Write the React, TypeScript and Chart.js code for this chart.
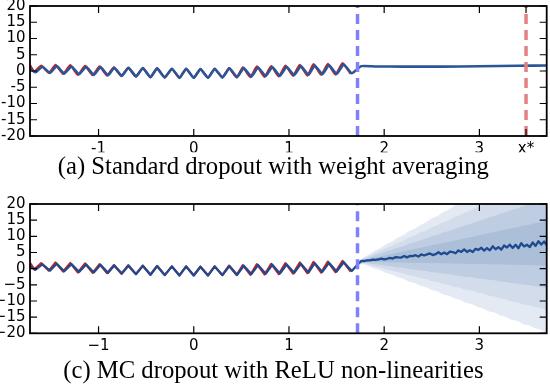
import { useEffect, useRef } from 'react';
import { Chart, registerables } from 'chart.js';
Chart.register(...registerables);

// ---- axis ranges / ticks ----
const X_MIN = -1.72;
const X_MAX = 3.707;
const Y_TICKS = [-20, -15, -10, -5, 0, 5, 10, 15, 20];
const X_TICKS_TOP = [-1, 0, 1, 2, 3, 3.49];
const X_LABELS_TOP = ['-1', '0', '1', '2', '3', 'x*'];
const X_TICKS_BOTTOM = [-1, 0, 1, 2, 3];
const X_LABELS_BOTTOM = ['\u22121', '0', '1', '2', '3'];
const TRAIN_END = 1.72;
const X_STAR = 3.49;
const CAPTION_TOP = '(a) Standard dropout with weight averaging';
const CAPTION_BOTTOM = '(c) MC dropout with ReLU non-linearities';

// ---- model fit on the training range (peaks / troughs) ----
const fitX = [-1.72, -1.665, -1.59, -1.51, -1.44, -1.36, -1.285, -1.205, -1.13, -1.05, -0.98, -0.9, -0.835, -0.755, -0.685, -0.605, -0.535, -0.455, -0.385, -0.305, -0.23, -0.15, -0.08, 0.0, 0.07, 0.15, 0.22, 0.3, 0.375, 0.455, 0.525, 0.605, 0.675, 0.755, 0.825, 0.905, 0.975, 1.055, 1.125, 1.205, 1.27, 1.35, 1.42, 1.5, 1.575, 1.66];
const fitY = [0.8, -0.4, 1.3, -0.6, 1.5, -0.8, 1.4, -1.0, 1.3, -1.2, 1.2, -1.3, 1.0, -1.5, 1.0, -1.7, 0.9, -1.9, 0.8, -2.0, 0.7, -2.1, 0.7, -2.1, 0.6, -2.1, 0.7, -2.0, 0.8, -1.9, 0.9, -1.7, 1.1, -1.6, 1.2, -1.5, 1.3, -1.3, 1.5, -1.2, 1.7, -1.0, 1.8, -0.9, 2.0, -0.7];

// ---- observed data (red) ----
const dataX = [-1.72, -1.675, -1.602, -1.522, -1.452, -1.372, -1.297, -1.217, -1.142, -1.062, -0.99, -0.91, -0.84, -0.76, -0.69, -0.61, -0.535, -0.455, -0.385, -0.305, -0.23, -0.15, -0.08, 0.0, 0.07, 0.15, 0.22, 0.3, 0.37, 0.45, 0.515, 0.595, 0.663, 0.743, 0.813, 0.893, 0.963, 1.043, 1.113, 1.193, 1.258, 1.338, 1.408, 1.488, 1.563, 1.648];
const dataY = [1.8, -0.2, 1.7, -0.6, 1.9, -0.9, 1.8, -1.2, 1.6, -1.3, 1.4, -1.4, 1.1, -1.6, 1.0, -1.7, 0.9, -1.9, 0.8, -2.0, 0.7, -2.1, 0.7, -2.1, 0.6, -2.1, 0.7, -2.0, 0.9, -2.0, 1.1, -1.9, 1.4, -1.8, 1.5, -1.7, 1.7, -1.5, 1.9, -1.4, 2.1, -1.2, 2.2, -1.1, 2.4, -0.9];

// ---- standard dropout extrapolation (flat) ----
const flatX = [1.76, 1.9, 2.2, 2.6, 3.0, 3.4, 3.72];
const flatY = [1.5, 1.4, 1.35, 1.35, 1.45, 1.6, 1.7];

// ---- MC dropout extrapolation: predictive mean ----
const mcX = [1.72, 1.76, 1.79, 1.82, 1.85, 1.88, 1.91, 1.94, 1.97, 2.0, 2.03, 2.06, 2.09, 2.12, 2.15, 2.18, 2.21, 2.24, 2.27, 2.3, 2.33, 2.36, 2.39, 2.42, 2.45, 2.48, 2.51, 2.54, 2.57, 2.6, 2.63, 2.66, 2.69, 2.72, 2.75, 2.78, 2.81, 2.84, 2.87, 2.9, 2.93, 2.96, 2.99, 3.02, 3.05, 3.08, 3.11, 3.14, 3.17, 3.2, 3.23, 3.26, 3.29, 3.32, 3.35, 3.38, 3.41, 3.44, 3.47, 3.5, 3.53, 3.56, 3.59, 3.62, 3.65, 3.68, 3.71];
const mcMean = [1.3, 2.4, 2.36, 2.55, 2.59, 2.81, 2.69, 2.88, 3.07, 2.86, 3.06, 3.31, 3.13, 3.57, 3.46, 3.42, 3.89, 3.48, 3.92, 3.86, 4.17, 3.75, 4.4, 4.08, 4.4, 4.72, 4.2, 4.48, 5.06, 4.47, 4.97, 4.48, 5.25, 5.14, 4.75, 5.64, 5.17, 5.94, 5.16, 5.72, 5.13, 6.14, 5.8, 6.46, 5.57, 6.38, 5.65, 6.91, 6.01, 6.67, 5.87, 7.16, 6.56, 7.43, 6.4, 7.37, 6.31, 7.89, 6.88, 7.4, 6.69, 8.1, 7.03, 8.48, 7.46, 8.39, 7.24];

// ---- MC dropout uncertainty: band centre and std ----
const bandX = [1.72, 1.78, 1.84, 1.9, 1.96, 2.02, 2.08, 2.14, 2.2, 2.26, 2.32, 2.38, 2.44, 2.5, 2.56, 2.62, 2.68, 2.74, 2.8, 2.86, 2.92, 2.98, 3.04, 3.1, 3.16, 3.22, 3.28, 3.34, 3.4, 3.46, 3.52, 3.58, 3.64, 3.7, 3.76];
const bandCenter = [1.4, 2.41, 2.58, 2.75, 2.92, 3.09, 3.26, 3.43, 3.6, 3.78, 3.95, 4.12, 4.29, 4.46, 4.63, 4.8, 4.97, 5.14, 5.31, 5.48, 5.66, 5.83, 6.0, 6.17, 6.34, 6.51, 6.68, 6.85, 7.02, 7.19, 7.36, 7.54, 7.71, 7.88, 8.05];
const bandStd = [0.1, 0.51, 0.9, 1.38, 1.72, 2.22, 2.55, 3.05, 3.36, 3.9, 4.2, 4.7, 5.02, 5.55, 5.84, 6.38, 6.66, 7.2, 7.5, 8.04, 8.3, 8.86, 9.15, 9.7, 9.96, 10.52, 10.8, 11.36, 11.62, 12.18, 12.45, 13.0, 13.28, 13.84, 14.1];
const bandFactors = [0.5, 1, 1.5, 2];
const bandColors = ['#abbfd9', '#bfcde2', '#d2dcea', '#e4eaf3'];

const BLUE = '#2a5597';
const BLUE_DARK = '#1f4a8f';
const RED = '#cc2020';
const DASH_BLUE = '#8080ff';
const DASH_RED = '#e58080';

const pts = (xs: number[], ys: number[]) => xs.map((x, i) => ({ x, y: ys[i] }));

const line = (data: any[], color: string, width: number, order: number, extra: any = {}) => ({
  data,
  borderColor: color,
  backgroundColor: color,
  borderWidth: width,
  pointRadius: 0,
  tension: 0,
  fill: false,
  order,
  borderJoinStyle: 'round',
  ...extra,
});

const vline = (x: number, color: string) =>
  line([{ x, y: -20 }, { x, y: 20 }], color, 3.5, 0, { borderDash: [10, 6], borderCapStyle: 'butt', borderJoinStyle: 'miter' });

const framePlugin = {
  id: 'frameTicks',
  afterDatasetsDraw(chart: any) {
    const { ctx, chartArea: a, scales } = chart;
    const xs = scales.x;
    const ys = scales.y;
    const L = 7;
    ctx.save();
    ctx.strokeStyle = '#000';
    ctx.lineWidth = 1.2;
    ctx.beginPath();
    xs.ticks.forEach((t: any) => {
      const p = xs.getPixelForValue(t.value);
      ctx.moveTo(p, a.bottom);
      ctx.lineTo(p, a.bottom - L);
      ctx.moveTo(p, a.top);
      ctx.lineTo(p, a.top + L);
    });
    ys.ticks.forEach((t: any) => {
      const p = ys.getPixelForValue(t.value);
      ctx.moveTo(a.left, p);
      ctx.lineTo(a.left + L, p);
      ctx.moveTo(a.right, p);
      ctx.lineTo(a.right - L, p);
    });
    ctx.stroke();
    ctx.lineWidth = 1.8;
    ctx.strokeRect(a.left, a.top, a.right - a.left, a.bottom - a.top);
    ctx.restore();
  },
};

function makeOptions(cfg: {
  padTop: number;
  xAxisHeight: number;
  caption: string;
  xTicks: number[];
  xLabels: string[];
  unicodeMinus: boolean;
}) {
  const tickFont = { family: 'DejaVu Sans', size: 15 };
  return {
    responsive: false,
    animation: false,
    events: [],
    layout: { padding: { top: cfg.padTop, right: 3.3, bottom: 0, left: 0 } },
    plugins: {
      legend: { display: false },
      tooltip: { enabled: false },
      title: {
        display: true,
        position: 'bottom',
        text: cfg.caption,
        color: '#000',
        font: { family: 'Liberation Serif', size: 24.7, weight: 'normal', lineHeight: 1.2 },
        padding: 0,
      },
    },
    scales: {
      x: {
        type: 'linear',
        min: X_MIN,
        max: X_MAX,
        grid: { display: false, drawTicks: false, tickLength: 0 },
        border: { display: false },
        afterBuildTicks: (s: any) => {
          s.ticks = cfg.xTicks.map((v) => ({ value: v }));
        },
        afterFit: (s: any) => {
          s.height = cfg.xAxisHeight;
          s.paddingLeft = 0;
          s.paddingRight = 0;
        },
        ticks: {
          autoSkip: false,
          maxRotation: 0,
          minRotation: 0,
          padding: 4,
          color: '#000',
          font: tickFont,
          callback: (_v: any, i: number) => cfg.xLabels[i],
        },
      },
      y: {
        type: 'linear',
        min: -20,
        max: 20,
        grid: { display: false, drawTicks: false, tickLength: 0 },
        border: { display: false },
        afterBuildTicks: (s: any) => {
          s.ticks = Y_TICKS.map((v) => ({ value: v }));
        },
        afterFit: (s: any) => {
          s.width = 30;
          s.paddingTop = 0;
          s.paddingBottom = 0;
        },
        ticks: {
          autoSkip: false,
          padding: 4.5,
          color: '#000',
          font: tickFont,
          callback: (_v: any, i: number) => {
            const s = String(Y_TICKS[i]);
            return cfg.unicodeMinus ? s.replace('-', '\u2212') : s;
          },
        },
      },
    },
  } as any;
}

export default function App() {
  const r1 = useRef<HTMLCanvasElement>(null);
  const r2 = useRef<HTMLCanvasElement>(null);

  useEffect(() => {
    const topData = {
      datasets: [
        vline(TRAIN_END, DASH_BLUE),
        vline(X_STAR, DASH_RED),
        line(pts([...fitX, ...flatX], [...fitY, ...flatY]), BLUE, 2.6, 1, { tension: 0.15 }),
        line(pts(dataX, dataY), RED, 2.2, 2, { tension: 0.15 }),
      ],
    };

    const bandSets: any[] = [];
    bandFactors.forEach((f, j) => {
      const up = bandCenter.map((m, i) => m + f * bandStd[i]);
      const lo = bandCenter.map((m, i) => m - f * bandStd[i]);
      bandSets.push(line(pts(bandX, up), bandColors[j], 0, 3 + j, { fill: '+1', backgroundColor: bandColors[j] }));
      bandSets.push(line(pts(bandX, lo), bandColors[j], 0, 3 + j));
    });

    const bottomData = {
      datasets: [
        vline(TRAIN_END, DASH_BLUE),
        line(pts([...fitX, ...mcX], [...fitY, ...mcMean]), BLUE_DARK, 2.3, 1),
        line(pts(dataX, dataY), RED, 2.2, 2),
        ...bandSets,
      ],
    };

    const c1 = new Chart(r1.current as HTMLCanvasElement, {
      type: 'line',
      data: topData as any,
      options: makeOptions({
        padTop: 6,
        xAxisHeight: 182 - 29.64 - 136,
        caption: CAPTION_TOP,
        xTicks: X_TICKS_TOP,
        xLabels: X_LABELS_TOP,
        unicodeMinus: false,
      }),
      plugins: [framePlugin],
    });
    const c2 = new Chart(r2.current as HTMLCanvasElement, {
      type: 'line',
      data: bottomData as any,
      options: makeOptions({
        padTop: 14,
        xAxisHeight: 196 - 29.64 - 143.3,
        caption: CAPTION_BOTTOM,
        xTicks: X_TICKS_BOTTOM,
        xLabels: X_LABELS_BOTTOM,
        unicodeMinus: true,
      }),
      plugins: [framePlugin],
    });
    return () => {
      c1.destroy();
      c2.destroy();
    };
  }, []);

  return (
    <div style={{ position: 'absolute', left: 0, top: 0, width: 550, height: 386, background: '#fff' }}>
      <canvas ref={r1} width={550} height={182} style={{ position: 'absolute', left: 0, top: 0, width: 550, height: 182 }} />
      <canvas ref={r2} width={550} height={196} style={{ position: 'absolute', left: 0, top: 190, width: 550, height: 196 }} />
    </div>
  );
}
